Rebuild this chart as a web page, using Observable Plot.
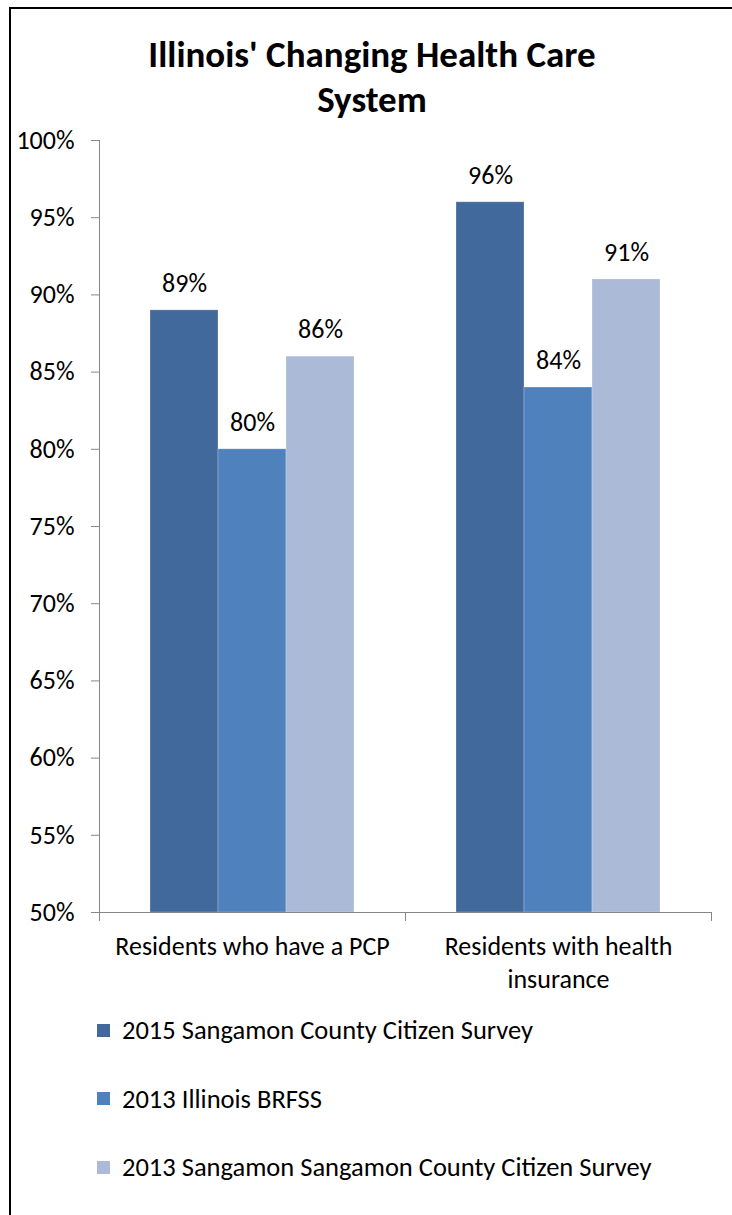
<!DOCTYPE html>
<html><head><meta charset="utf-8">
<script src="https://cdn.jsdelivr.net/npm/d3@7"></script>
<script src="https://cdn.jsdelivr.net/npm/@observablehq/plot@0.6"></script>
<style>
html,body{margin:0;padding:0;background:#fff;overflow:hidden;}
body{position:relative;width:732px;height:1215px;font-family:Carlito,Lato,sans-serif;color:#000;}
#bl{position:absolute;left:9px;top:7px;width:2px;height:1208px;background:#000;}
#bt{position:absolute;left:9px;top:7px;width:723px;height:2px;background:#000;}
#title{position:absolute;left:12px;width:720px;top:32px;text-align:center;font-weight:bold;font-size:37px;line-height:45px;}
#chart{position:absolute;left:0;top:120px;}
#legend{position:absolute;left:97px;top:996px;}
.item{display:flex;align-items:center;height:68.5px;font-size:26.5px;white-space:nowrap;}
.sw{width:13px;height:13px;margin-right:12px;flex:none;}
</style></head>
<body>
<div id="bl"></div>
<div id="bt"></div>
<div id="title">Illinois' Changing Health Care<br>System</div>
<div id="chart"></div>
<div id="legend"></div>
<script>
const categories = ["Residents who have a PCP", "Residents with health insurance"];
const categoryLabels = ["Residents who have a PCP", "Residents with health\ninsurance"];
const series = ["2015 Sangamon County Citizen Survey", "2013 Illinois BRFSS", "2013 Sangamon Sangamon County Citizen Survey"];
const colors = ["#41699B", "#4F81BD", "#AABAD7"];
const values2015 = [89, 96];
const valuesBRFSS = [80, 84];
const values2013 = [86, 91];
const yTicks = [50, 55, 60, 65, 70, 75, 80, 85, 90, 95, 100];

const seriesValues = [values2015, valuesBRFSS, values2013];
const data = [];
categories.forEach((c, i) => {
  seriesValues.forEach((vals, j) => data.push({category: c, series: series[j], value: vals[i]}));
});

const gray = "#868686";
const fs = 26;
const chart = Plot.plot({
  width: 732, height: 880,
  marginLeft: 98, marginRight: 21, marginTop: 20, marginBottom: 88,
  style: {fontFamily: "Carlito, Lato, sans-serif", fontSize: fs + "px", color: "#000", background: "transparent", overflow: "visible"},
  fx: {domain: categories, padding: 0, label: null},
  x: {domain: series, paddingInner: 0, paddingOuter: 0.75, axis: null},
  y: {domain: [50, 100], label: null},
  color: {domain: series, range: colors},
  marks: [
    Plot.barY(data, {fx: "category", x: "series", y1: 50, y2: "value", fill: "series", stroke: "#ffffff", strokeOpacity: 0.25, strokeWidth: 1}),
    Plot.text(data, {fx: "category", x: "series", y: "value", text: d => d.value + "%", dy: -27, fontSize: fs, fill: "#000"}),
    Plot.frame({anchor: "left", facetAnchor: "left", stroke: gray}),
    Plot.frame({anchor: "bottom", stroke: gray}),
    Plot.frame({anchor: "left", insetTop: 772, insetBottom: -8, stroke: gray}),
    Plot.frame({anchor: "right", facetAnchor: "right", insetTop: 772, insetBottom: -8, stroke: gray}),
    Plot.axisY({ticks: yTicks, tickFormat: d => d + "%", tickSize: 8, tickPadding: 17, stroke: gray, fill: "#000", fontSize: fs}),
    Plot.axisFx({anchor: "bottom", tickSize: 0, tickPadding: 18, tickFormat: d => categoryLabels[categories.indexOf(d)], fontSize: fs, lineHeight: 1.3, fill: "#000"})
  ]
});
document.getElementById("chart").appendChild(chart);

const legend = document.getElementById("legend");
series.forEach((s, i) => {
  const item = document.createElement("div");
  item.className = "item";
  const sw = document.createElement("span");
  sw.className = "sw";
  sw.style.background = colors[i];
  const t = document.createElement("span");
  t.textContent = s;
  item.appendChild(sw); item.appendChild(t);
  legend.appendChild(item);
});
</script>
</body></html>
